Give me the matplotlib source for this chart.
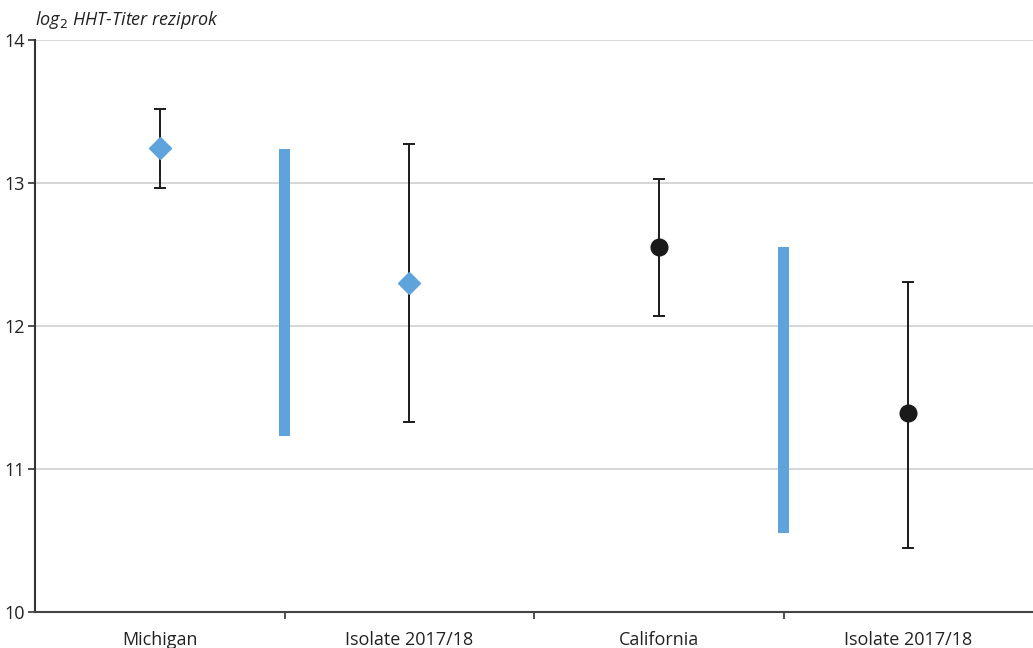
import matplotlib as mpl
import matplotlib.pyplot as plt

mpl.rcParams.update({
    "font.family": ["Open Sans", "DejaVu Sans"],
    "font.size": 12,
})

categories = ["Michigan", "Isolate 2017/18", "California", "Isolate 2017/18"]
means = [13.245, 12.30, 12.55, 11.39]
err_low = [12.965, 11.33, 12.07, 10.45]
err_high = [13.52, 13.27, 13.03, 12.31]
markers = ["D", "D", "o", "o"]
marker_colors = ["#5FA3DC", "#5FA3DC", "#1a1a1a", "#1a1a1a"]

# range bars between the two groups
range_pos = [0.5, 2.5]
range_low = [11.23, 10.55]
range_high = [13.24, 12.55]

BLUE = "#5FA3DC"

fig = plt.figure(figsize=(10.33, 6.48), dpi=100)
ax = fig.add_axes([35 / 1033, 1 - 612 / 648, 1 - 35 / 1033, (612 - 40) / 648])

ax.bar(range_pos, [h - l for h, l in zip(range_high, range_low)], bottom=range_low,
       width=0.046, color=BLUE, zorder=3)

for i, (m, lo, hi) in enumerate(zip(means, err_low, err_high)):
    ax.errorbar(i, m, yerr=[[m - lo], [hi - m]], fmt="none", ecolor="#1a1a1a",
                elinewidth=1.4, capsize=4, capthick=1.4, zorder=4)
    ax.plot(i, m, marker=markers[i], color=marker_colors[i],
            markersize=11 if markers[i] == "D" else 12, linestyle="none", zorder=5)

ax.set_xlim(-0.5, 3.5)
ax.set_ylim(10, 14)
ax.set_yticks([10, 11, 12, 13, 14])
ax.set_yticklabels(["10", "11", "12", "13", "14"])
ax.set_xticks([0.5, 1.5, 2.5])
ax.set_xticklabels([])
ax.set_xticks(range(4), minor=True)
ax.set_xticklabels(categories, minor=True)
ax.tick_params(axis="x", which="minor", length=0, pad=14, labelsize=13, colors="#222222")
ax.tick_params(axis="x", which="major", length=5, width=1.2, color="#333333")
ax.tick_params(axis="y", length=5, width=1.2, color="#333333", labelsize=13,
               labelcolor="#222222", pad=2)

ax.grid(axis="y", color="#d0d0d0", linewidth=1.2, zorder=0)
ax.set_axisbelow(True)
for s in ["top", "right"]:
    ax.spines[s].set_visible(False)
ax.spines["left"].set_color("#333333")
ax.spines["left"].set_linewidth(1.5)
ax.spines["bottom"].set_color("#444444")
ax.spines["bottom"].set_linewidth(1.5)

fig.text(35 / 1033, 1 - 20 / 648, r"log$_{2}$ HHT-Titer reziprok", fontsize=13,
         style="italic", va="center", ha="left", color="#222222")

fig.savefig("out.png", dpi=100)
